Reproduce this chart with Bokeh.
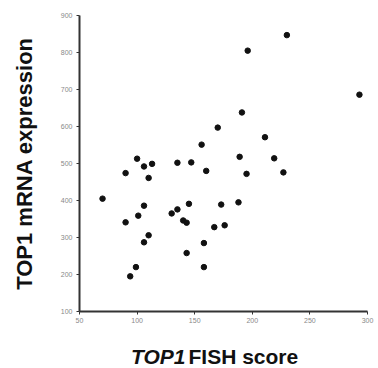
from bokeh.plotting import figure
from bokeh.models import Range1d, FixedTicker
from bokeh.layouts import column
from bokeh.core.properties import value
from bokeh.embed import file_html
from bokeh.resources import INLINE

# TOP1 FISH score (x) vs TOP1 mRNA expression (y)
fish_score = [70, 90, 100, 106, 113, 110, 135, 147, 106, 101, 90, 130, 135, 140,
              143, 145, 110, 106, 99, 94, 143, 156, 160, 189, 173, 188, 167, 176,
              158, 158, 230, 196, 293, 191, 170, 211, 219, 195, 227]
mrna_expr = [405, 474, 513, 492, 499, 461, 502, 503, 386, 359, 341, 365, 376, 346,
             340, 391, 306, 287, 220, 195, 258, 551, 480, 518, 389, 395, 328, 333,
             285, 220, 847, 805, 686, 638, 597, 571, 514, 472, 476]
x_ticks = [50, 100, 150, 200, 250, 300]
y_ticks = [100, 200, 300, 400, 500, 600, 700, 800, 900]
x_title_italic = "TOP1"
x_title_rest = "FISH score"
y_title = "TOP1 mRNA expression"

W = 378
H1, H2 = 330, 38
L, R, T, B = 79, 11, 15, 19
X0, X1 = 50, 300

p = figure(width=W, height=H1, output_backend="svg", toolbar_location=None,
           x_range=Range1d(X0, X1), y_range=Range1d(100, 900),
           min_border_left=L, min_border_right=R, min_border_top=T, min_border_bottom=B)
p.outline_line_color = None
p.xgrid.visible = False
p.ygrid.visible = False
p.background_fill_color = "white"
p.border_fill_color = "white"

for ax in (p.xaxis[0], p.yaxis[0]):
    ax.axis_line_color = "#333333"
    ax.axis_line_width = 2
    ax.major_tick_line_color = "#333333"
    ax.major_tick_out = 3
    ax.major_tick_in = 0
    ax.minor_tick_line_color = None
    ax.major_label_text_font = "Liberation Sans"
    ax.major_label_text_font_size = "7px"
    ax.major_label_text_color = "#888888"

p.xaxis[0].ticker = FixedTicker(ticks=x_ticks)
p.yaxis[0].ticker = FixedTicker(ticks=y_ticks)
p.xaxis[0].major_label_standoff = 3
p.yaxis[0].major_label_standoff = 4

p.yaxis[0].axis_label = y_title
p.yaxis[0].axis_label_text_font = "Liberation Sans"
p.yaxis[0].axis_label_text_font_style = "bold"
p.yaxis[0].axis_label_text_font_size = "22px"
p.yaxis[0].axis_label_text_color = "#111111"
p.yaxis[0].axis_label_standoff = 21

p.scatter(fish_score, mrna_expr, size=5.5, color="#111111")

# strip below the chart carrying the x-axis title (mixed italic / upright).
# Its frame is aligned with the chart's frame by the column layout, so it
# shares the chart's x mapping.
def px_x(px):
    return X0 + (px - L) * (X1 - X0) / (W - L - R)

p2 = figure(width=W, height=H2, output_backend="svg", toolbar_location=None,
            x_range=Range1d(X0, X1), y_range=Range1d(0, H2),
            x_axis_location=None, y_axis_location=None,
            min_border=0, min_border_left=L, min_border_right=R,
            min_border_top=0, min_border_bottom=0)
p2.grid.visible = False
p2.outline_line_color = None
p2.background_fill_color = "white"
p2.border_fill_color = "white"
p2.text(x=[px_x(185)], y=[H2 - 26], text=[x_title_italic], text_align="right",
        text_baseline="middle", text_font=value("Liberation Sans"),
        text_font_style="bold italic", text_font_size="21px", text_color="#111111")
p2.text(x=[px_x(188)], y=[H2 - 26], text=[x_title_rest], text_align="left",
        text_baseline="middle", text_font=value("Liberation Sans"),
        text_font_style="bold", text_font_size="21px", text_color="#111111")

layout = column(p, p2, spacing=0)
open("out.html", "w").write(file_html(layout, INLINE))
